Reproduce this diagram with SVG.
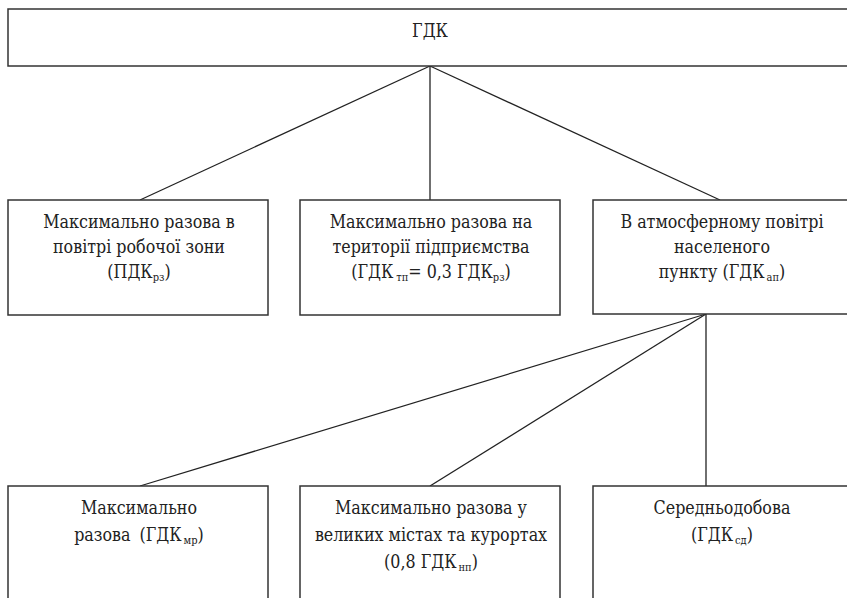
<svg xmlns="http://www.w3.org/2000/svg" width="847" height="598" viewBox="0 0 847 598">
<style>
.box{fill:#fff;stroke:#333;stroke-width:1.5}
.ln{stroke:#222;stroke-width:1.3;fill:none}
.t{font-family:'DejaVu Serif Condensed','DejaVu Serif',serif;font-stretch:condensed;font-size:17.7px;fill:#222;text-anchor:middle}
.s{font-size:11px}
</style>
<rect width="847" height="598" fill="#fff"/>
<g id="connectors">
<line class="ln" x1="430" y1="66" x2="140" y2="200"/>
<line class="ln" x1="430" y1="66" x2="430" y2="200"/>
<line class="ln" x1="430" y1="66" x2="720" y2="200"/>
<line class="ln" x1="706" y1="314" x2="140" y2="486"/>
<line class="ln" x1="706" y1="314" x2="430" y2="486"/>
<line class="ln" x1="706" y1="314" x2="706" y2="486"/>
</g>
<g id="gdk">
<rect class="box" x="8" y="9" width="850" height="57"/>
<text class="t" x="430" y="37">ГДК</text>
</g>
<g id="pdk-rz">
<rect class="box" x="8" y="200" width="260" height="115"/>
<text class="t" x="139" y="228">Максимально разова в</text>
<text class="t" x="139" y="253">повітрі робочої зони</text>
<text class="t" x="139" y="278">(ПДК<tspan class="s" dy="3">рз</tspan><tspan dy="-3">)</tspan></text>
</g>
<g id="gdk-tp">
<rect class="box" x="300" y="200" width="260" height="115"/>
<text class="t" x="431" y="228">Максимально разова на</text>
<text class="t" x="431" y="253">території підприємства</text>
<text class="t" x="431" y="278">(ГДК<tspan class="s" dx="3" dy="3">тп</tspan><tspan dy="-3">= 0,3 ГДК</tspan><tspan class="s" dy="3">рз</tspan><tspan dy="-3">)</tspan></text>
</g>
<g id="gdk-ap">
<rect class="box" x="593" y="200" width="265" height="114"/>
<text class="t" x="722" y="228">В атмосферному повітрі</text>
<text class="t" x="722" y="253">населеного</text>
<text class="t" x="722" y="278">пункту (ГДК<tspan class="s" dx="2" dy="3">ап</tspan><tspan dy="-3">)</tspan></text>
</g>
<g id="gdk-mr">
<rect class="box" x="8" y="486" width="260" height="130"/>
<text class="t" x="139" y="514">Максимально</text>
<text class="t" x="139" y="541">разова <tspan dx="4">(ГДК</tspan><tspan class="s" dx="2" dy="3">мр</tspan><tspan dy="-3">)</tspan></text>
</g>
<g id="gdk-np">
<rect class="box" x="300" y="486" width="260" height="130"/>
<text class="t" x="431" y="514">Максимально разова у</text>
<text class="t" x="431" y="541">великих містах та курортах</text>
<text class="t" x="431" y="568">(0,8 ГДК<tspan class="s" dx="2" dy="3">нп</tspan><tspan dy="-3">)</tspan></text>
</g>
<g id="gdk-sd">
<rect class="box" x="593" y="486" width="265" height="130"/>
<text class="t" x="722" y="514">Середньодобова</text>
<text class="t" x="722" y="541">(ГДК<tspan class="s" dx="2" dy="3">сд</tspan><tspan dy="-3">)</tspan></text>
</g>
</svg>
